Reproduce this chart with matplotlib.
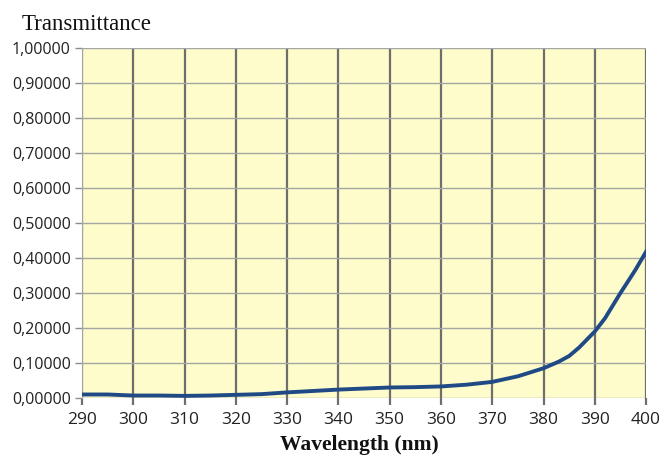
import matplotlib.pyplot as plt
from matplotlib.ticker import FuncFormatter

wavelength = [290, 295, 300, 305, 310, 315, 320, 325, 330, 335, 340, 345, 350,
              355, 360, 365, 370, 375, 380, 383, 385, 387, 390, 392, 395, 397,
              398, 400]
transmittance = [0.010, 0.010, 0.007, 0.007, 0.006, 0.007, 0.009, 0.011, 0.016,
                 0.020, 0.024, 0.027, 0.030, 0.031, 0.033, 0.038, 0.046, 0.062,
                 0.085, 0.104, 0.120, 0.145, 0.190, 0.228, 0.300, 0.345,
                 0.368, 0.418]
xticks = list(range(290, 401, 10))
yticks = [i / 10 for i in range(11)]

fig = plt.figure(figsize=(6.64, 4.55), dpi=100)
ax = fig.add_axes([0.1235, 0.1253, 0.8495, 0.7692])
ax.set_facecolor("#fdfcca")

for x in xticks:
    ax.axvline(x, color="#6e6e6e", lw=1.6, zorder=1)
for y in yticks:
    ax.axhline(y, color="#a6a6a6", lw=1.0, zorder=1)

ax.plot(wavelength, transmittance, color="#1f4a86", lw=2.8, zorder=3)

ax.set_xlim(290, 400)
ax.set_ylim(0, 1)
ax.set_xticks(xticks)
ax.set_yticks(yticks)
ax.yaxis.set_major_formatter(FuncFormatter(lambda v, p: f"{v:.5f}".replace(".", ",")))

for s in ["top", "right", "bottom"]:
    ax.spines[s].set_visible(False)
ax.spines["left"].set_color("#a6a6a6")
ax.tick_params(axis="y", colors="#8c8c8c", length=5, width=1.0,
               labelcolor="#222222", labelsize=11.5, pad=3)
ax.tick_params(axis="x", colors="#6e6e6e", length=5, width=1.6,
               labelcolor="#222222", labelsize=12.5, pad=5)
for lab in ax.get_xticklabels() + ax.get_yticklabels():
    lab.set_family("Open Sans")

fig.text(0.033, 0.934, "Transmittance", family="Liberation Serif", fontsize=16.5,
         va="baseline", ha="left", color="#111111")
fig.text(0.541, 0.010, "Wavelength (nm)", family="Liberation Serif", fontsize=15.5,
         fontweight="bold", ha="center", va="baseline", color="#111111")

fig.savefig("out.png", dpi=100)
